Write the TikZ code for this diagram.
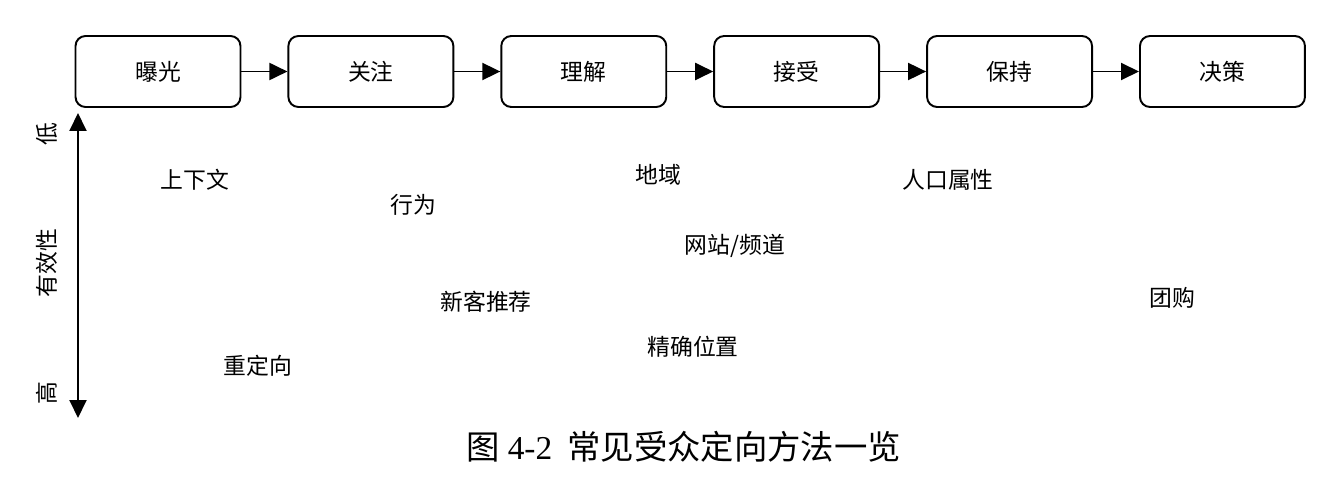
\documentclass[tikz,border=0pt]{standalone}
\usepackage{fontspec}
\usepackage{tikz}
\usetikzlibrary{positioning,arrows.meta}
\setmainfont{Noto Sans CJK SC}
\newfontfamily\capfont{Liberation Serif}

\begin{document}
\begin{tikzpicture}[x=0.02cm, y=-0.02cm, node distance=0.92cm, >={Triangle[length=0.36cm,width=0.34cm]}]
  \tikzstyle{stage}=[rectangle,rounded corners=0.2cm,draw=black,line width=1.1pt,minimum width=3.3cm,minimum height=1.42cm,align=center,fill=white,font=\fontsize{13pt}{15pt}\selectfont]
  \tikzstyle{method}=[font=\fontsize{13pt}{15pt}\selectfont,inner sep=0pt]
  \tikzstyle{axislbl}=[rotate=90,font=\fontsize{13pt}{15pt}\selectfont,inner sep=0pt]
  \useasboundingbox (0,0) rectangle (1340,480);

  \node[stage] (expo) at (158,71.5) {曝光};
  \node[stage,right=of expo] (attn) {关注};
  \node[stage,right=of attn] (undr) {理解};
  \node[stage,right=of undr] (acpt) {接受};
  \node[stage,right=of acpt] (keep) {保持};
  \node[stage,right=of keep] (dcsn) {决策};

  \draw[->,line width=1.1pt] (expo) -- (attn);
  \draw[->,line width=1.1pt] (attn) -- (undr);
  \draw[->,line width=1.1pt] (undr) -- (acpt);
  \draw[->,line width=1.1pt] (acpt) -- (keep);
  \draw[->,line width=1.1pt] (keep) -- (dcsn);

  % effectiveness axis
  \coordinate (axtop) at (78,113);
  \coordinate (axbot) at (78,418);
  \draw[<->,line width=1.1pt] (axbot) -- (axtop);
  \node[axislbl] (low) at (47,134) {低};
  \node[axislbl] (eff) at (47,263) {有效性};
  \node[axislbl] (high) at (47,393) {高};

  % targeting methods
  \node[method] (ctx) at (195,180) {上下文};
  \node[method] (bhv) at (413,205) {行为};
  \node[method] (geo) at (658,175) {地域};
  \node[method] (demo) at (948,180) {人口属性};
  \node[method] (site) at (735,246) {网站/频道};
  \node[method] (lookalike) at (486,302) {新客推荐};
  \node[method] (group) at (1172,298) {团购};
  \node[method] (loc) at (693,347) {精确位置};
  \node[method] (retgt) at (258,366) {重定向};

  \node[font=\fontsize{19pt}{21pt}\selectfont,inner sep=0pt] (cap) at (684,447) {图 {\capfont 4-2}\ \ 常见受众定向方法一览};
\end{tikzpicture}
\end{document}
